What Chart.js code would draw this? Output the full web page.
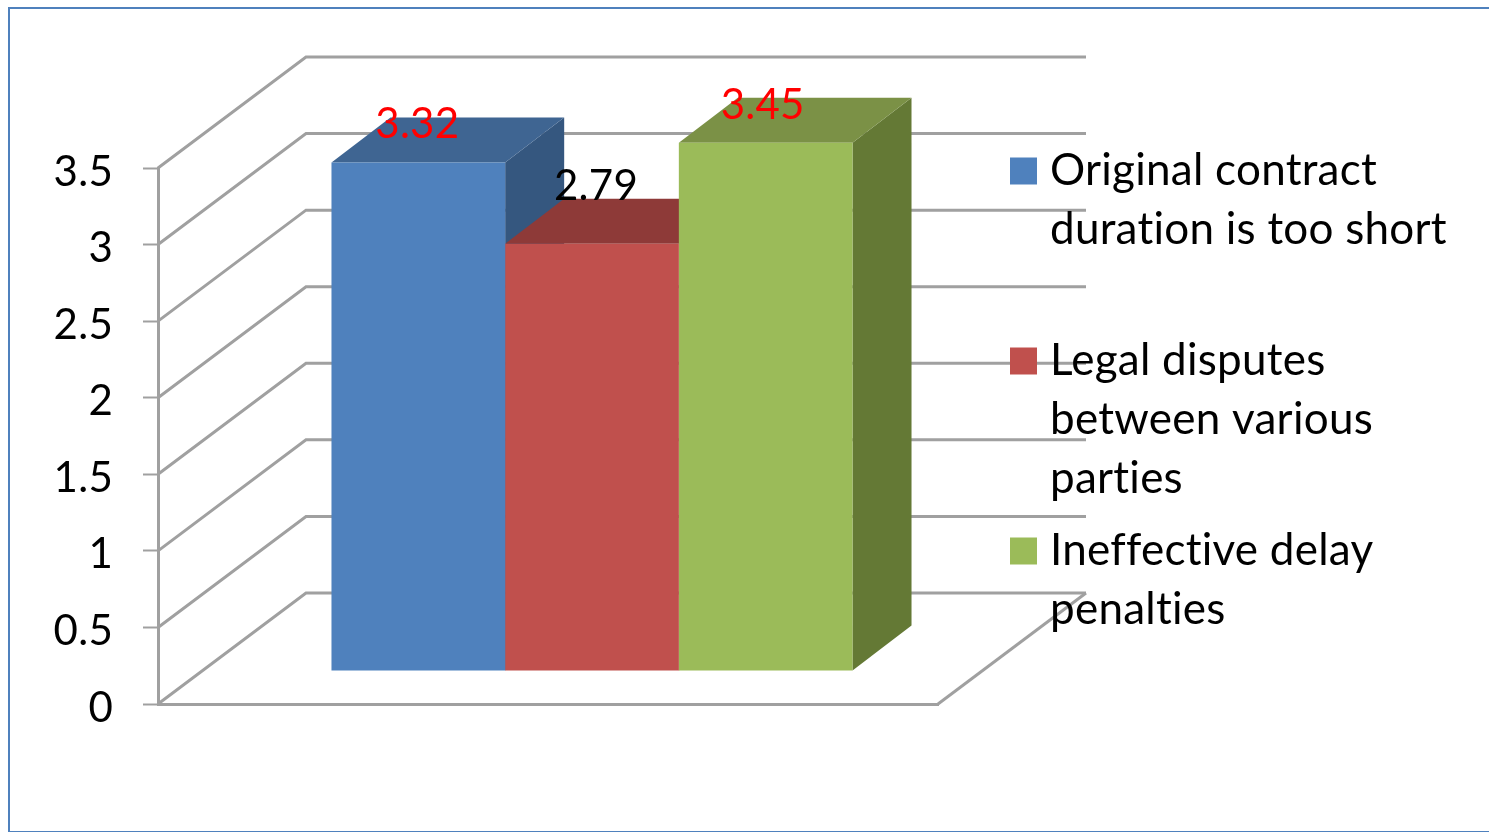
<!DOCTYPE html>
<html>
<head>
<meta charset="utf-8">
<title>Causes of delay</title>
<script src="https://cdn.jsdelivr.net/npm/chart.js@4"></script>
<style>
  html, body { margin: 0; padding: 0; background: #fff; overflow: hidden; }
  #frame { position: absolute; left: 8px; top: 7px; width: 1500px; height: 822px; border: 2px solid #4f81bd; }
  #a { position: absolute; left: 0; top: 0; }
</style>
</head>
<body>
<div id="frame"></div>
<canvas id="a" width="1489" height="832"></canvas>
<script>
const categories = [""];
const seriesLabels = [
  ["Original contract", "duration is too short", ""],
  ["Legal disputes", "between various", "parties"],
  ["Ineffective delay", "penalties"],
];
const seriesValues = [[3.32], [2.79], [3.45]];
const frontColors = ["#4f81bd", "#c0504d", "#9bbb59"];
const topColors = ["#3f6592", "#8e3a38", "#7b9146"];
const sideColors = ["#35577f", "#8e3a38", "#647935"];
const valueColors = ["#ff0000", "#000000", "#ff0000"];

const gray = "#a0a0a0";
const fontFamily = "Lato";
const fontSize = 42;
const legendFontSize = 44;

// the box of the chart is sheared back by wall, bars stand part way in
const wall = { x: 148, y: -111 };
const barShift = { x: 44, y: -33 };
const barDepth = { x: 59, y: -45 };
// value labels sit above the front edge of each bar
const labelLift = [38, 57, 37];
const labelNudge = [-1, 4, -3];

function poly(ctx, color, pts) {
  ctx.fillStyle = color;
  ctx.beginPath();
  pts.forEach((p, i) => (i ? ctx.lineTo(p[0], p[1]) : ctx.moveTo(p[0], p[1])));
  ctx.closePath();
  ctx.fill();
}

const box3d = {
  id: "box3d",
  afterLayout(chart) {
    // legend floats over the right side of the chart
    const legend = chart.legend;
    legend.left = 1006;
    legend.right = 1489;
    legend.top = 136;
    legend.bottom = 832;
  },
  beforeDraw(chart) {
    const { ctx, chartArea, scales } = chart;
    // a touch of tracking, also keeps "ti" from joining into a ligature
    ctx.letterSpacing = "0.25px";
    ctx.save();
    ctx.strokeStyle = gray;
    ctx.lineWidth = 3;
    ctx.lineJoin = "miter";
    scales.y.ticks.forEach((t) => {
      const y = scales.y.getPixelForValue(t.value);
      ctx.beginPath();
      ctx.moveTo(chartArea.left, y);
      ctx.lineTo(chartArea.left + wall.x, y + wall.y);
      ctx.lineTo(chartArea.right + wall.x, y + wall.y);
      ctx.stroke();
    });
    // right edge of the floor
    ctx.beginPath();
    ctx.moveTo(chartArea.right, chartArea.bottom);
    ctx.lineTo(chartArea.right + wall.x, chartArea.bottom + wall.y);
    ctx.stroke();
    ctx.restore();
  },
  beforeDatasetsDraw(chart) {
    const { ctx } = chart;
    ctx.save();
    ctx.translate(barShift.x, barShift.y);
    // top and side faces first, the library paints the fronts over them
    seriesValues.forEach((_, i) => {
      const bar = chart.getDatasetMeta(i).data[0];
      const { x, y, base, width } = bar.getProps(["x", "y", "base", "width"], true);
      const l = x - width / 2;
      const r = x + width / 2;
      poly(ctx, sideColors[i], [
        [r, y],
        [r + barDepth.x, y + barDepth.y],
        [r + barDepth.x, base + barDepth.y],
        [r, base],
      ]);
      poly(ctx, topColors[i], [
        [l, y],
        [l + barDepth.x, y + barDepth.y],
        [r + barDepth.x, y + barDepth.y],
        [r, y],
      ]);
    });
  },
  afterDatasetsDraw(chart) {
    const { ctx } = chart;
    ctx.font = fontSize + "px " + fontFamily;
    ctx.textAlign = "center";
    ctx.textBaseline = "middle";
    seriesValues.forEach((vals, i) => {
      const bar = chart.getDatasetMeta(i).data[0];
      ctx.fillStyle = valueColors[i];
      ctx.fillText(String(vals[0]), bar.x + labelNudge[i], bar.y - labelLift[i]);
    });
    ctx.restore();
  },
};

new Chart(document.querySelector("#a").getContext("2d"), {
  type: "bar",
  data: {
    labels: categories,
    datasets: seriesValues.map((v, i) => ({
      label: seriesLabels[i],
      data: v,
      backgroundColor: frontColors[i],
      borderWidth: 0,
      barPercentage: 1,
      categoryPercentage: 0.668,
    })),
  },
  plugins: [box3d],
  options: {
    responsive: false,
    animation: false,
    layout: { padding: { left: 0, top: 168, right: 551, bottom: 128 } },
    plugins: {
      title: { display: false },
      tooltip: { enabled: false },
      legend: {
        position: "chartArea",
        align: "start",
        labels: {
          boxWidth: 9,
          boxHeight: 9,
          padding: 13,
          color: "#000",
          font: { family: fontFamily, size: legendFontSize, lineHeight: 59 / legendFontSize },
          generateLabels(chart) {
            // thick stroke widens the swatch without pushing the text away
            return Chart.defaults.plugins.legend.labels.generateLabels(chart).map((item, i) => ({
              ...item,
              fillStyle: frontColors[i],
              strokeStyle: frontColors[i],
              lineWidth: 18,
            }));
          },
        },
      },
    },
    scales: {
      x: {
        ticks: { display: false },
        grid: { display: false },
        border: { color: gray, width: 3 },
        afterFit(s) { s.height = 0; },
      },
      y: {
        min: 0,
        max: 3.5,
        ticks: {
          stepSize: 0.5,
          padding: 30,
          labelOffset: 4,
          color: "#000",
          font: { family: fontFamily, size: fontSize },
          callback: (v) => String(v),
        },
        grid: { drawOnChartArea: false, tickLength: 15, tickColor: gray, tickWidth: 2 },
        border: { color: gray, width: 3 },
        afterFit(s) { s.width = 158; },
      },
    },
  },
});
</script>
</body>
</html>
